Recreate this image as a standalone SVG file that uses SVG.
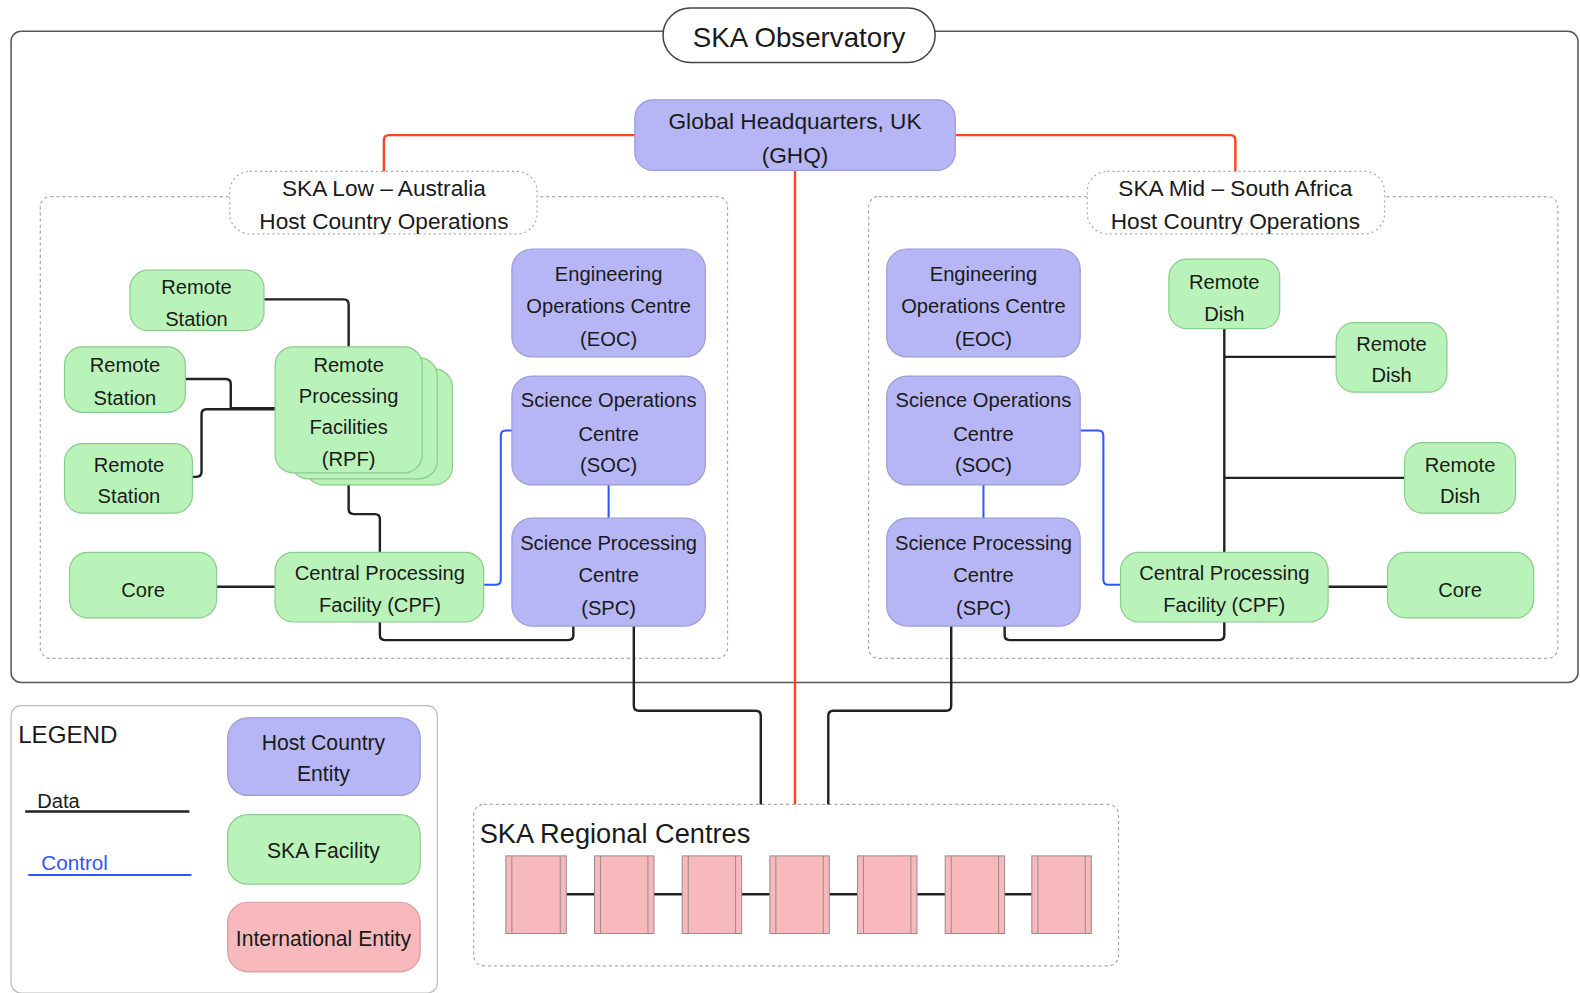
<svg xmlns="http://www.w3.org/2000/svg" width="1580" height="993" viewBox="0 0 1580 993">
<style>
text{font-family:"Liberation Sans",Arial,sans-serif;fill:#1a1a1a;text-anchor:middle}
.t{font-size:20px}
.l{font-size:22.5px}
.blue{fill:#b6b6f6;stroke:#9b9bd8;stroke-width:1.2}
.green{fill:#b9f3b9;stroke:#8ccc8c;stroke-width:1.2}
.pink{fill:#f8b9bc;stroke:#d89a9d;stroke-width:1.2}
.rc{fill:#f8b9bc;stroke:#9a8a8a;stroke-width:1}
.dash{fill:none;stroke:#a8a8a8;stroke-width:1.2;stroke-dasharray:3 3}
.lbl{fill:#fff;stroke:#a8a8a8;stroke-width:1.2;stroke-dasharray:2 3}
.data{fill:none;stroke:#222;stroke-width:2.4}
.ctl{fill:none;stroke:#2f55ff;stroke-width:2}
.red{fill:none;stroke:#ff4324;stroke-width:2.4}
</style>
<rect width="1580" height="993" fill="#fff"/>
<g transform="scale(1.00765 1.00812)">
<g id="frame">
<rect x="11" y="31" width="1555" height="646" rx="10" fill="none" stroke="#555" stroke-width="1.5"/>
<rect x="40" y="195" width="682" height="458" rx="10" class="dash"/>
<rect x="862" y="195" width="684" height="458" rx="10" class="dash"/>
<rect x="470" y="798" width="640" height="160" rx="10" class="dash"/>
</g>
<g id="connectors">
<path class="red" d="M630,134 H386 Q381,134 381,139 V172"/>
<path class="red" d="M948,134 H1221 Q1226,134 1226,139 V172"/>
<path class="red" d="M789,169 V798"/>
<path class="data" d="M262,297 H341 Q346,297 346,302 V344"/>
<path class="data" d="M184,376 H224 Q229,376 229,381 V405 H273"/>
<path class="data" d="M191,473 H195 Q200,473 200,468 V411 Q200,406 205,406 H273"/>
<path class="data" d="M346,469 V505 Q346,510 351,510 H372 Q377,510 377,515 V548"/>
<path class="data" d="M215,582 H273"/>
<path class="data" d="M377,617 V630 Q377,635 382,635 H564 Q569,635 569,630 V621"/>
<path class="data" d="M629,621 V700 Q629,705 634,705 H750 Q755,705 755,710 V798"/>
<path class="ctl" d="M480,580 H492 Q497,580 497,575 V432 Q497,427 502,427 H508"/>
<path class="ctl" d="M604,481 V514"/>
<path class="data" d="M1215,326 V548"/>
<path class="data" d="M1215,354 H1326"/>
<path class="data" d="M1215,474 H1394"/>
<path class="data" d="M1318,582 H1377"/>
<path class="data" d="M1215,617 V630 Q1215,635 1210,635 H1002 Q997,635 997,630 V621"/>
<path class="data" d="M944,621 V700 Q944,705 939,705 H827 Q822,705 822,710 V798"/>
<path class="ctl" d="M1072,427 H1090 Q1095,427 1095,432 V575 Q1095,580 1100,580 H1112"/>
<path class="ctl" d="M976,481 V514"/>
<path class="data" d="M562,887 H1024"/>
</g>
<g id="title">
<rect x="658" y="8" width="270" height="54" rx="27" fill="#fff" stroke="#444" stroke-width="1.5"/>
<text x="793" y="47" style="font-size:27.5px">SKA Observatory</text>
</g>
<g id="ghq">
<rect x="630" y="99" width="318" height="70" rx="18" class="blue"/>
<text class="l" x="789" y="128">Global Headquarters, UK</text>
<text class="l" x="789" y="162">(GHQ)</text>
</g>
<g id="low-label">
<rect x="228" y="170" width="305" height="62" rx="20" class="lbl"/>
<text class="l" x="381" y="194">SKA Low – Australia</text>
<text class="l" x="381" y="227">Host Country Operations</text>
</g>
<g id="mid-label">
<rect x="1079" y="170" width="295" height="62" rx="20" class="lbl"/>
<text class="l" x="1226" y="194">SKA Mid – South Africa</text>
<text class="l" x="1226" y="227">Host Country Operations</text>
</g>
<g id="low-rs1">
<rect x="129" y="268" width="133" height="60" rx="18" class="green"/>
<text class="t" x="195" y="292">Remote</text>
<text class="t" x="195" y="323">Station</text>
</g>
<g id="low-rs2">
<rect x="64" y="344" width="120" height="65" rx="18" class="green"/>
<text class="t" x="124" y="369">Remote</text>
<text class="t" x="124" y="402">Station</text>
</g>
<g id="low-rs3">
<rect x="64" y="440" width="127" height="69" rx="18" class="green"/>
<text class="t" x="128" y="468">Remote</text>
<text class="t" x="128" y="499">Station</text>
</g>
<g id="low-rpf">
<rect x="303" y="366" width="146" height="115" rx="18" class="green"/>
<rect x="288" y="355" width="146" height="120" rx="18" class="green"/>
<rect x="273" y="344" width="146" height="125" rx="18" class="green"/>
<text class="t" x="346" y="369">Remote</text>
<text class="t" x="346" y="400">Processing</text>
<text class="t" x="346" y="431">Facilities</text>
<text class="t" x="346" y="462">(RPF)</text>
</g>
<g id="low-core">
<rect x="69" y="548" width="146" height="65" rx="18" class="green"/>
<text class="t" x="142" y="592">Core</text>
</g>
<g id="low-cpf">
<rect x="273" y="548" width="207" height="69" rx="18" class="green"/>
<text class="t" x="377" y="575">Central Processing</text>
<text class="t" x="377" y="607">Facility (CPF)</text>
</g>
<g id="low-eoc">
<rect x="508" y="247" width="192" height="107" rx="20" class="blue"/>
<text class="t" x="604" y="279">Engineering</text>
<text class="t" x="604" y="310">Operations Centre</text>
<text class="t" x="604" y="343">(EOC)</text>
</g>
<g id="low-soc">
<rect x="508" y="373" width="192" height="108" rx="20" class="blue"/>
<text class="t" x="604" y="404">Science Operations</text>
<text class="t" x="604" y="437">Centre</text>
<text class="t" x="604" y="468">(SOC)</text>
</g>
<g id="low-spc">
<rect x="508" y="514" width="192" height="107" rx="20" class="blue"/>
<text class="t" x="604" y="546">Science Processing</text>
<text class="t" x="604" y="577">Centre</text>
<text class="t" x="604" y="610">(SPC)</text>
</g>
<g id="mid-eoc">
<rect x="880" y="247" width="192" height="107" rx="20" class="blue"/>
<text class="t" x="976" y="279">Engineering</text>
<text class="t" x="976" y="310">Operations Centre</text>
<text class="t" x="976" y="343">(EOC)</text>
</g>
<g id="mid-soc">
<rect x="880" y="373" width="192" height="108" rx="20" class="blue"/>
<text class="t" x="976" y="404">Science Operations</text>
<text class="t" x="976" y="437">Centre</text>
<text class="t" x="976" y="468">(SOC)</text>
</g>
<g id="mid-spc">
<rect x="880" y="514" width="192" height="107" rx="20" class="blue"/>
<text class="t" x="976" y="546">Science Processing</text>
<text class="t" x="976" y="577">Centre</text>
<text class="t" x="976" y="610">(SPC)</text>
</g>
<g id="mid-rd1">
<rect x="1160" y="257" width="110" height="69" rx="18" class="green"/>
<text class="t" x="1215" y="287">Remote</text>
<text class="t" x="1215" y="318">Dish</text>
</g>
<g id="mid-rd2">
<rect x="1326" y="320" width="110" height="69" rx="18" class="green"/>
<text class="t" x="1381" y="348">Remote</text>
<text class="t" x="1381" y="379">Dish</text>
</g>
<g id="mid-rd3">
<rect x="1394" y="439" width="110" height="70" rx="18" class="green"/>
<text class="t" x="1449" y="468">Remote</text>
<text class="t" x="1449" y="499">Dish</text>
</g>
<g id="mid-cpf">
<rect x="1112" y="548" width="206" height="69" rx="18" class="green"/>
<text class="t" x="1215" y="575">Central Processing</text>
<text class="t" x="1215" y="607">Facility (CPF)</text>
</g>
<g id="mid-core">
<rect x="1377" y="548" width="145" height="65" rx="18" class="green"/>
<text class="t" x="1449" y="592">Core</text>
</g>
<g id="regional-centres">
<text x="476" y="836" style="font-size:27px;text-anchor:start">SKA Regional Centres</text>
<g id="rc1"><rect x="502" y="849" width="60" height="77" class="rc"/><path d="M508,849V926M556,849V926" stroke="#9a8a8a" stroke-width="1"/></g>
<g id="rc2"><rect x="590" y="849" width="59" height="77" class="rc"/><path d="M596,849V926M643,849V926" stroke="#9a8a8a" stroke-width="1"/></g>
<g id="rc3"><rect x="677" y="849" width="59" height="77" class="rc"/><path d="M683,849V926M730,849V926" stroke="#9a8a8a" stroke-width="1"/></g>
<g id="rc4"><rect x="764" y="849" width="59" height="77" class="rc"/><path d="M770,849V926M817,849V926" stroke="#9a8a8a" stroke-width="1"/></g>
<g id="rc5"><rect x="851" y="849" width="59" height="77" class="rc"/><path d="M857,849V926M904,849V926" stroke="#9a8a8a" stroke-width="1"/></g>
<g id="rc6"><rect x="938" y="849" width="59" height="77" class="rc"/><path d="M944,849V926M991,849V926" stroke="#9a8a8a" stroke-width="1"/></g>
<g id="rc7"><rect x="1024" y="849" width="59" height="77" class="rc"/><path d="M1030,849V926M1077,849V926" stroke="#9a8a8a" stroke-width="1"/></g>
</g>
<g id="legend">
<rect x="11" y="700" width="423" height="285" rx="10" fill="none" stroke="#bbb" stroke-width="1.2"/>
<text x="18" y="737" style="font-size:24px;text-anchor:start">LEGEND</text>
<text x="37" y="801" style="font-size:20px;text-anchor:start">Data</text>
<path class="data" d="M25,805 H188"/>
<text x="41" y="863" style="font-size:20.5px;text-anchor:start;fill:#2f55ff">Control</text>
<path class="ctl" d="M28,868 H190"/>
<g id="legend-host">
<rect x="226" y="712" width="191" height="77" rx="20" class="blue"/>
<text x="321" y="744" style="font-size:21px">Host Country</text>
<text x="321" y="775" style="font-size:21px">Entity</text>
</g>
<g id="legend-facility">
<rect x="226" y="808" width="191" height="69" rx="20" class="green"/>
<text x="321" y="851" style="font-size:21px">SKA Facility</text>
</g>
<g id="legend-intl">
<rect x="226" y="895" width="191" height="69" rx="20" class="pink"/>
<text x="321" y="938" style="font-size:21px">International Entity</text>
</g>
</g>
</g>
</svg>
